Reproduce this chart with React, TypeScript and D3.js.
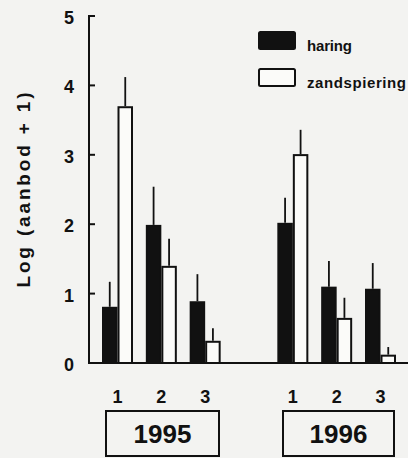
import React from "react";
import * as d3 from "d3";

const years = ["1995", "1996"];
const periods = ["1", "2", "3"];
const series = ["haring", "zandspiering"];
// values per year, per period
const haring = [
  [0.81, 1.99, 0.89],
  [2.02, 1.1, 1.07],
];
const haringErr = [
  [1.17, 2.54, 1.28],
  [2.38, 1.47, 1.44],
];
const zand = [
  [3.7, 1.4, 0.32],
  [3.01, 0.65, 0.12],
];
const zandErr = [
  [4.12, 1.79, 0.5],
  [3.36, 0.94, 0.23],
];
const yTicks = [0, 1, 2, 3, 4, 5];

const W = 408;
const H = 458;
const FONT = "'Liberation Sans', Arial, Helvetica, sans-serif";

export default function App() {
  const y = d3.scaleLinear().domain([0, 5]).range([363, 16]);
  // slot positions: 3 periods per year, one empty slot between years
  const slot = d3.scaleLinear().domain([0, 6]).range([102, 365]);
  const barW = 15.5;
  const x0 = y(0);

  const bars: React.ReactNode[] = [];
  const labels: React.ReactNode[] = [];
  years.forEach((yr, yi) => {
    periods.forEach((p, pi) => {
      const s = yi * 4 + pi;
      const left = slot(s);
      const vals = [haring[yi][pi], zand[yi][pi]];
      const errs = [haringErr[yi][pi], zandErr[yi][pi]];
      vals.forEach((v, si) => {
        const bx = left + si * barW;
        const cx = bx + barW / 2;
        bars.push(
          <line
            key={`e${yi}${pi}${si}`}
            x1={cx}
            x2={cx}
            y1={y(v)}
            y2={y(errs[si])}
            stroke="#111"
            strokeWidth={1.8}
          />
        );
        bars.push(
          <rect
            key={`b${yi}${pi}${si}`}
            x={bx + 1}
            y={y(v) + 1}
            width={barW - 2}
            height={x0 - y(v) - 1}
            fill={si === 0 ? "#111" : "#fbfbf9"}
            stroke="#111"
            strokeWidth={2}
          />
        );
      });
      labels.push(
        <text
          key={`l${yi}${pi}`}
          x={left + barW}
          y={397}
          textAnchor="middle"
          dominantBaseline="central"
          fontSize={18}
          fontWeight="bold"
          fill="#111"
        >
          {p}
        </text>
      );
    });
  });

  const yearBoxes = [
    { x1: 106, x2: 219 },
    { x1: 283, x2: 394 },
  ];

  return (
    <svg
      width={W}
      height={H}
      style={{ position: "absolute", left: 0, top: 0, background: "#f3f3f1" }}
      fontFamily={FONT}
    >
      <rect x={0} y={0} width={W} height={H} fill="#f3f3f1" />
      {/* y axis */}
      <line x1={89} x2={89} y1={y(5) - 1} y2={x0 + 1} stroke="#111" strokeWidth={2} />
      {yTicks.map((t) => (
        <g key={t}>
          <line x1={89} x2={95} y1={y(t)} y2={y(t)} stroke="#111" strokeWidth={2} />
          <text
            x={69}
            y={y(t) + 2}
            textAnchor="middle"
            dominantBaseline="central"
            fontSize={18}
            fontWeight="bold"
            fill="#111"
          >
            {t}
          </text>
        </g>
      ))}
      <text
        transform={`translate(23,190) rotate(-90)`}
        textAnchor="middle"
        dominantBaseline="central"
        fontSize={19}
        fontWeight="bold"
        fill="#111"
        textLength={195}
        lengthAdjust="spacing"
      >
        Log (aanbod + 1)
      </text>
      {bars}
      {/* x axis */}
      <line x1={88} x2={W} y1={x0} y2={x0} stroke="#111" strokeWidth={2} />
      {labels}
      {years.map((yr, i) => (
        <g key={yr}>
          <rect
            x={yearBoxes[i].x1}
            y={411}
            width={yearBoxes[i].x2 - yearBoxes[i].x1}
            height={45}
            fill="none"
            stroke="#111"
            strokeWidth={2}
          />
          <text
            x={(yearBoxes[i].x1 + yearBoxes[i].x2) / 2}
            y={434}
            textAnchor="middle"
            dominantBaseline="central"
            fontSize={26}
            fontWeight="bold"
            fill="#111"
          >
            {yr}
          </text>
        </g>
      ))}
      {/* legend */}
      {series.map((s, i) => (
        <g key={s}>
          <rect
            x={259}
            y={32 + i * 37}
            width={36}
            height={17}
            rx={1.5}
            fill={i === 0 ? "#111" : "#fbfbf9"}
            stroke="#111"
            strokeWidth={2}
          />
          <text
            x={307}
            y={45 + i * 37}
            dominantBaseline="central"
            fontSize={15}
            fontWeight="bold"
            fill="#111"
            textLength={i === 0 ? 45 : 99}
            lengthAdjust="spacing"
          >
            {s}
          </text>
        </g>
      ))}
    </svg>
  );
}
